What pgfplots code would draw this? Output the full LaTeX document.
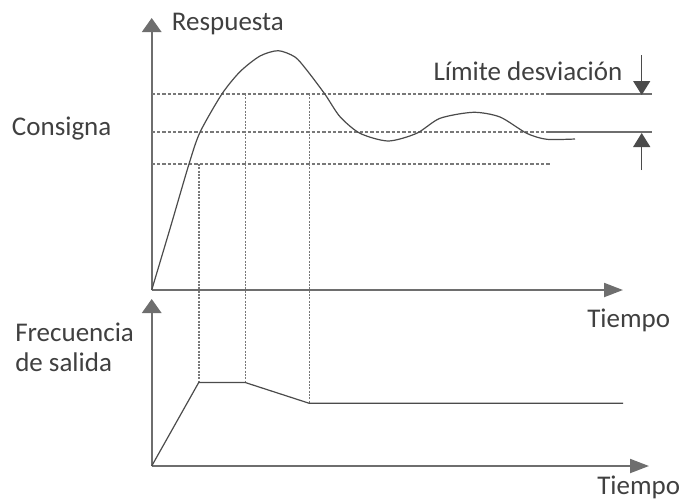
\documentclass[border=0pt]{standalone}
\usepackage{pgfplots}
\pgfplotsset{compat=1.18}
\usepackage{fontspec}
\setmainfont{Carlito}
\usetikzlibrary{arrows.meta}
\definecolor{axgray}{RGB}{110,110,110}
\definecolor{linegray}{RGB}{75,75,75}
\definecolor{dashgray}{RGB}{120,120,120}
\definecolor{txtgray}{RGB}{64,64,64}
\begin{document}
\begin{tikzpicture}
\begin{axis}[name=ax, width=510.75pt, height=375.75pt, scale only axis,
  xmin=0, xmax=681, ymin=0, ymax=501, y dir=reverse,
  axis lines=none, clip=false,
  every axis plot/.append style={no marks},
  nodes={font=\fontsize{20.25}{24}\selectfont, text=txtgray, inner sep=0pt}]
% --- axes of the response plot
\addplot[axgray, line width=1.5pt, -{Triangle[length=10.5pt,width=14.5pt]}] coordinates {(151.7,290) (151.7,18)};
\addplot[axgray, line width=1.5pt, -{Triangle[length=14.25pt,width=10.5pt]}] coordinates {(151.7,290) (623,290)};
% --- axes of the frequency plot
\addplot[axgray, line width=1.5pt, -{Triangle[length=10.5pt,width=14.5pt]}] coordinates {(151.7,466) (151.7,299)};
\addplot[axgray, line width=1.5pt, -{Triangle[length=14.25pt,width=10.5pt]}] coordinates {(151.7,466) (649,466)};
% --- limit and setpoint lines
\addplot[dashgray, line width=0.8pt, dash pattern=on 2.5pt off 1.5pt] coordinates {(151.7,94) (547,94)};
\addplot[dashgray, line width=0.8pt, dash pattern=on 2.5pt off 1.5pt] coordinates {(151.7,132) (547,132)};
\addplot[dashgray, line width=0.8pt, dash pattern=on 2.5pt off 1.5pt] coordinates {(151.7,164) (550,164)};
\addplot[axgray, line width=1pt] coordinates {(547,94) (652,94)};
\addplot[axgray, line width=1pt] coordinates {(547,132) (652,132)};
% --- vertical dotted guides
\addplot[dashgray, line width=0.8pt, dash pattern=on 1.5pt off 1pt] coordinates {(199,164) (199,382.5)};
\addplot[dashgray, line width=0.8pt, dash pattern=on 1.5pt off 1pt] coordinates {(245.3,94) (245.3,382.5)};
\addplot[dashgray, line width=0.8pt, dash pattern=on 1.5pt off 1pt] coordinates {(309.5,94) (309.5,403)};
% --- deviation limit arrows
\addplot[linegray, line width=1pt, -{Triangle[length=10.5pt,width=12.75pt]}] coordinates {(641.7,55) (641.7,95)};
\addplot[linegray, line width=1pt, -{Triangle[length=10.5pt,width=12.75pt]}] coordinates {(641.7,170) (641.7,133)};
% --- response curve
\addplot[linegray, line width=0.9pt, smooth, tension=0.45] coordinates {
  (151.7,290) (170.5,227) (189,164) (200,132.3) (221.7,94.3) (240,71.7)
  (260,56) (278.3,50.7) (295,57) (306.7,70) (325,94.3) (340,116.7)
  (360,133.3) (388.3,141) (416.7,133.3) (440,118.3) (473.3,112.3)
  (500,117) (526.7,133.3) (546.7,139.3) (575,139)};
% --- output frequency
\addplot[linegray, line width=0.9pt] coordinates {
  (151.7,466) (198.7,382.5) (245.2,382.5) (309,403.2) (623,403.2)};
% --- labels
\node[anchor=base west] at (axis cs:171.7,30.5) {Respuesta};
\node[anchor=base west] at (axis cs:433.3,80) {Límite desviación};
\node[anchor=base west] at (axis cs:11.7,135) {Consigna};
\node[anchor=base west] at (axis cs:587,327) {Tiempo};
\node[anchor=base west] at (axis cs:15,341.7) {Frecuencia};
\node[anchor=base west] at (axis cs:15,371.7) {de salida};
\node[anchor=base west] at (axis cs:597,494.5) {Tiempo};
\end{axis}
\pgfresetboundingbox
\path (ax.south west) rectangle (ax.north east);
\end{tikzpicture}
\end{document}
